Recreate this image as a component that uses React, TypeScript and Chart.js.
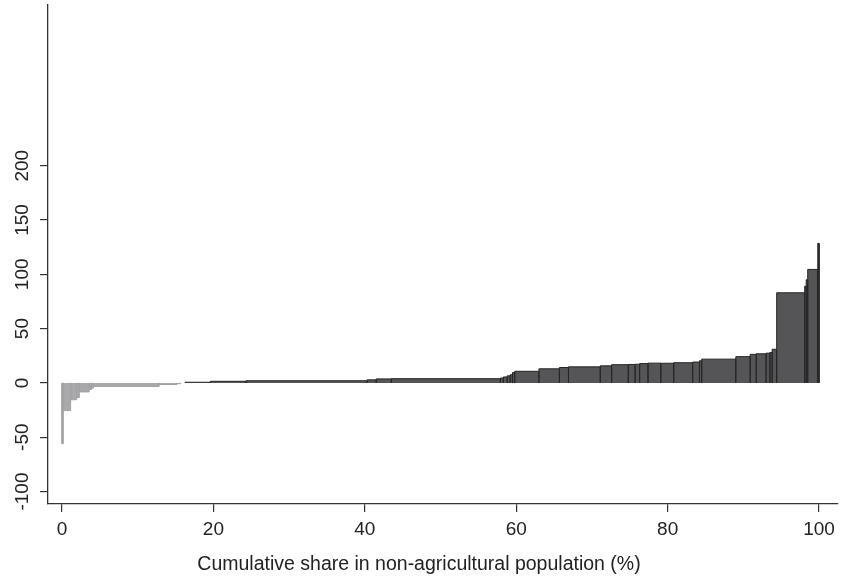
import React, { useEffect, useRef } from "react";
import { Chart, registerables } from "chart.js";

Chart.register(...registerables);

// Population shares (%) and values of the bars, left to right
const negShares = [0.17, 0.97, 0.8, 0.35, 1.3, 0.3, 0.25, 8.7, 2.35, 0.5];
const negValues = [-56, -25.5, -15.5, -13.5, -8.3, -6, -4.8, -3.2, -1.5, -0.7];
const zeroShare = 0.56;
const posShares = [
  3.35, 4.7, 16.0, 1.2, 2.0, 14.4, 0.4, 0.5, 0.4, 0.3, 0.3, 3.2, 2.7, 1.2, 4.2, 1.5,
  2.2, 0.9, 0.6, 1.1, 1.7, 1.7, 2.5, 0.9, 0.3, 4.5, 1.9, 0.8, 1.3, 0.5, 0.3, 0.6,
  3.7, 0.2, 0.2, 1.33, 0.17,
];
const posValues = [
  0.6, 1.5, 2.0, 2.8, 3.7, 3.9, 4.5, 5.5, 6.5, 7.5, 9.5, 10.7, 13, 14.2, 14.8, 15.7,
  16.8, 17, 17.2, 17.8, 18.2, 18.1, 18.6, 19.2, 20.4, 21.9, 24.2, 26.3, 26.8, 27.4, 28, 31,
  83, 89, 95, 104.5, 128.5,
];
const xTicks = [0, 20, 40, 60, 80, 100];
const yTicks = [-100, -50, 0, 50, 100, 150, 200];
const xTitle = "Cumulative share in non-agricultural population (%)";

function outline(start: number, shares: number[], values: number[]) {
  const pts: { x: number; y: number }[] = [];
  let x = start;
  shares.forEach((w, i) => {
    const x1 = x + w;
    pts.push({ x, y: 0 }, { x, y: values[i] }, { x: x1, y: values[i] }, { x: x1, y: 0 });
    x = x1;
  });
  return { pts, end: x };
}

export default function App() {
  const ref = useRef<HTMLCanvasElement | null>(null);

  useEffect(() => {
    if (!ref.current) return;
    const neg = outline(0, negShares, negValues);
    const pos = outline(neg.end + zeroShare, posShares, posValues);
    const family = "'Liberation Sans', Arial, sans-serif";
    const font = { family, size: 19 };
    const axisColor = "#333333";
    const chart = new Chart(ref.current, {
      type: "line",
      data: {
        datasets: [
          {
            data: neg.pts,
            fill: "origin",
            backgroundColor: "#a9a9ab",
            borderColor: "#a2a2a4",
            borderWidth: 1,
            pointRadius: 0,
            tension: 0,
          },
          {
            data: pos.pts,
            fill: "origin",
            backgroundColor: "#555557",
            borderColor: "#262626",
            borderWidth: 1,
            pointRadius: 0,
            tension: 0,
          },
        ],
      },
      options: {
        animation: false,
        responsive: false,
        events: [],
        layout: { padding: { top: 5, right: 5, left: 0, bottom: 0 } },
        plugins: {
          legend: { display: false },
          tooltip: { enabled: false },
          title: {
            display: true,
            position: "bottom",
            text: xTitle,
            font: { family, size: 19.5, weight: "normal" },
            color: "#222",
            padding: { top: 0, bottom: 2.3 },
          },
        },
        scales: {
          x: {
            type: "linear",
            min: -1.85,
            max: 102.5,
            afterBuildTicks: (s: any) => {
              s.ticks = xTicks.map((v) => ({ value: v }));
            },
            afterFit: (s: any) => {
              s.height = 49.3;
              s.paddingLeft = 0;
              s.paddingRight = 0;
            },
            grid: { drawOnChartArea: false, drawTicks: true, tickLength: 8, color: axisColor, lineWidth: 1.2 },
            border: { display: true, color: axisColor, width: 1.3 },
            ticks: { font, color: "#222", padding: 6, autoSkip: false, maxRotation: 0 },
          },
          y: {
            type: "linear",
            min: -111.5,
            max: 348,
            afterBuildTicks: (s: any) => {
              s.ticks = yTicks.map((v) => ({ value: v }));
            },
            afterFit: (s: any) => {
              s.width = 48;
              s.paddingTop = 0;
              s.paddingBottom = 0;
            },
            grid: { drawOnChartArea: false, drawTicks: true, tickLength: 8, color: axisColor, lineWidth: 1.2 },
            border: { display: true, color: axisColor, width: 1.3 },
            ticks: {
              font,
              color: "#222",
              padding: -2,
              autoSkip: false,
              minRotation: 90,
              maxRotation: 90,
              crossAlign: "center",
            },
          },
        },
      },
    } as any);
    return () => chart.destroy();
  }, []);

  return (
    <div style={{ position: "fixed", left: 0, top: 0, width: 843, height: 579, background: "#fff" }}>
      <canvas ref={ref} width={843} height={579} style={{ display: "block" }} />
    </div>
  );
}
